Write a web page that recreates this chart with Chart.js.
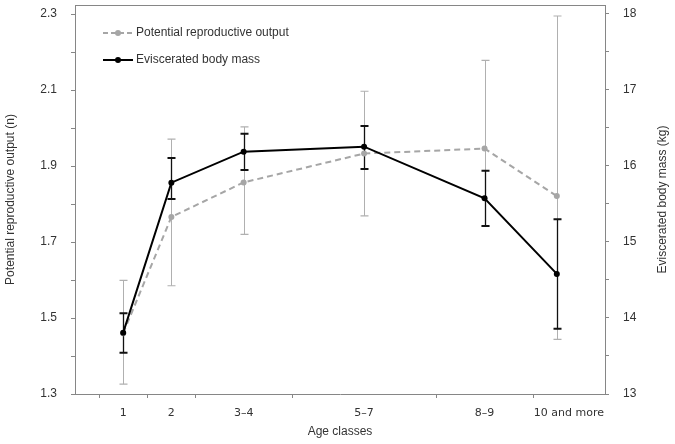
<!DOCTYPE html>
<html>
<head>
<meta charset="utf-8">
<script src="https://cdn.jsdelivr.net/npm/chart.js@4.4.1/dist/chart.umd.min.js"></script>
<style>
  body { margin: 0; background: #fff; }
</style>
</head>
<body>
<canvas id="ageChart" width="675" height="444"></canvas>
<script>
// Age classes and where they sit on the x axis
const ageClasses = ['1', '2', '3–4', '5–7', '8–9', '10 and more'];
const ageX = [1, 2, 3.5, 6, 8.5, 10];
const labelX = [1, 2, 3.5, 6, 8.5, 10.25];
const classBounds = [0.5, 1.5, 2.5, 4.5, 7.5, 9.5];

// Potential reproductive output (left axis), with error bar ends
const reproOutput = [1.46, 1.766, 1.857, 1.933, 1.946, 1.821];
const reproLow = [1.326, 1.585, 1.72, 1.769, 1.742, 1.444];
const reproHigh = [1.599, 1.971, 2.003, 2.097, 2.178, 2.295];

// Eviscerated body mass (right axis), with error bar ends
const bodyMass = [13.807, 15.78, 16.188, 16.254, 15.575, 14.58];
const massLow = [13.543, 15.566, 15.947, 15.961, 15.21, 13.86];
const massHigh = [14.062, 16.105, 16.425, 16.526, 15.938, 15.3];

// Axis ticks (minor ones have no label)
const leftTicks = [1.3, 1.4, 1.5, 1.6, 1.7, 1.8, 1.9, 2.0, 2.1, 2.2, 2.3];
const rightTicks = [13, 13.5, 14, 14.5, 15, 15.5, 16, 16.5, 17, 17.5, 18];

const GRAY = '#a6a6a6';
const AXIS = '#868686';
const TEXT = '#333333';

Chart.defaults.font.family = '"Liberation Sans", Arial, sans-serif';
Chart.defaults.font.size = 12;
Chart.defaults.color = TEXT;

// Error bars, drawn under the lines
function drawBars(ctx, xs, ys, lows, highs, color, lw, capW) {
    ctx.save();
    ctx.strokeStyle = color;
    ageX.forEach((v, i) => {
        const px = Math.round(xs.getPixelForValue(v)) + 0.5;
        const top = ys.getPixelForValue(highs[i]);
        const bot = ys.getPixelForValue(lows[i]);
        ctx.lineWidth = lw;
        ctx.beginPath();
        ctx.moveTo(px, top);
        ctx.lineTo(px, bot);
        ctx.stroke();
        ctx.lineWidth = capW;
        ctx.beginPath();
        ctx.moveTo(px - 4, top); ctx.lineTo(px + 4, top);
        ctx.moveTo(px - 4, bot); ctx.lineTo(px + 4, bot);
        ctx.stroke();
    });
    ctx.restore();
}

const errorBars = {
    id: 'errorBars',
    beforeDatasetsDraw(chart) {
        const { ctx, scales } = chart;
        drawBars(ctx, scales.x, scales.yL, reproLow, reproHigh, '#b0b0b0', 1, 1.2);
        drawBars(ctx, scales.x, scales.yR, massLow, massHigh, '#111111', 1.3, 2);
    }
};

// Frame, class tick marks, right title and the legend
const extras = {
    id: 'extras',
    afterDraw(chart) {
        const { ctx, chartArea: a, scales } = chart;
        ctx.save();
        ctx.strokeStyle = AXIS;
        ctx.lineWidth = 1;
        ctx.beginPath();
        ctx.moveTo(a.left, a.top + 0.5);
        ctx.lineTo(a.right, a.top + 0.5);
        classBounds.forEach(v => {
            const px = Math.round(scales.x.getPixelForValue(v)) + 0.5;
            ctx.moveTo(px, a.bottom);
            ctx.lineTo(px, a.bottom + 4);
        });
        ctx.stroke();

        // right axis title reads bottom to top
        ctx.fillStyle = TEXT;
        ctx.font = '12px "Liberation Sans", Arial, sans-serif';
        ctx.textAlign = 'center';
        ctx.textBaseline = 'middle';
        ctx.translate(663, (a.top + a.bottom) / 2);
        ctx.rotate(-Math.PI / 2);
        ctx.fillText('Eviscerated body mass (kg)', 0, 0);
        ctx.restore();

        // legend
        const items = [
            { text: 'Potential reproductive output', color: GRAY, dash: [5, 3], y: 33 },
            { text: 'Eviscerated body mass', color: '#000', dash: [], y: 60 }
        ];
        ctx.save();
        items.forEach(it => {
            ctx.strokeStyle = it.color;
            ctx.fillStyle = it.color;
            ctx.lineWidth = 2;
            ctx.setLineDash(it.dash);
            ctx.beginPath();
            ctx.moveTo(103, it.y);
            ctx.lineTo(133, it.y);
            ctx.stroke();
            ctx.setLineDash([]);
            ctx.beginPath();
            ctx.arc(118, it.y, 3, 0, Math.PI * 2);
            ctx.fill();
            ctx.fillStyle = TEXT;
            ctx.font = '12px "Liberation Sans", Arial, sans-serif';
            ctx.textBaseline = 'middle';
            ctx.fillText(it.text, 136, it.y);
        });
        ctx.restore();
    }
};

function toPoints(xs, ys) {
    return xs.map((x, i) => ({ x: x, y: ys[i] }));
}

new Chart(document.getElementById('ageChart').getContext('2d'), {
    type: 'line',
    data: {
        datasets: [{
            label: 'Eviscerated body mass',
            data: toPoints(ageX, bodyMass),
            yAxisID: 'yR',
            borderColor: '#000',
            backgroundColor: '#000',
            borderWidth: 2,
            pointRadius: 3,
            pointBorderWidth: 0,
            tension: 0,
            order: 0
        }, {
            label: 'Potential reproductive output',
            data: toPoints(ageX, reproOutput),
            yAxisID: 'yL',
            borderColor: GRAY,
            backgroundColor: GRAY,
            borderWidth: 2,
            borderDash: [6, 4],
            pointRadius: 3,
            pointBorderWidth: 0,
            tension: 0,
            order: 1
        }]
    },
    options: {
        responsive: false,
        animation: false,
        layout: { padding: { top: 5 } },
        plugins: { legend: { display: false }, tooltip: { enabled: false } },
        scales: {
            x: {
                type: 'linear',
                min: 0,
                max: 11,
                afterBuildTicks: s => { s.ticks = labelX.map(v => ({ value: v })); },
                afterFit: s => { s.height = 50; s.paddingLeft = 0; s.paddingRight = 0; },
                ticks: {
                    autoSkip: false,
                    maxRotation: 0,
                    padding: 13,
                    color: TEXT,
                    font: { family: '"DejaVu Sans", Verdana, sans-serif', size: 11 },
                    callback: (v, i) => ageClasses[i]
                },
                grid: { display: true, drawOnChartArea: false, drawTicks: false },
                border: { color: AXIS },
                title: {
                    display: true,
                    text: 'Age classes',
                    color: TEXT,
                    padding: { bottom: 5 }
                }
            },
            yL: {
                type: 'linear',
                position: 'left',
                min: 1.3,
                max: 2.324,
                afterBuildTicks: s => { s.ticks = leftTicks.map(v => ({ value: v })); },
                afterFit: s => { s.width = 75; s.paddingTop = 0; s.paddingBottom = 0; },
                ticks: {
                    padding: 14,
                    color: TEXT,
                    callback: (v, i) => (i % 2 === 0 ? v.toFixed(1) : '')
                },
                grid: { drawOnChartArea: false, tickLength: 4, color: AXIS },
                border: { color: AXIS },
                title: {
                    display: true,
                    text: 'Potential reproductive output (n)',
                    color: TEXT,
                    padding: { top: 3 }
                }
            },
            yR: {
                type: 'linear',
                position: 'right',
                min: 13,
                max: 18.118,
                afterBuildTicks: s => { s.ticks = rightTicks.map(v => ({ value: v })); },
                afterFit: s => { s.width = 70; s.paddingTop = 0; s.paddingBottom = 0; },
                ticks: {
                    padding: 14,
                    color: TEXT,
                    callback: (v, i) => (i % 2 === 0 ? String(v) : '')
                },
                grid: { drawOnChartArea: false, tickLength: 4, color: AXIS },
                border: { color: AXIS }
            }
        }
    },
    plugins: [errorBars, extras]
});
</script>
</body>
</html>
